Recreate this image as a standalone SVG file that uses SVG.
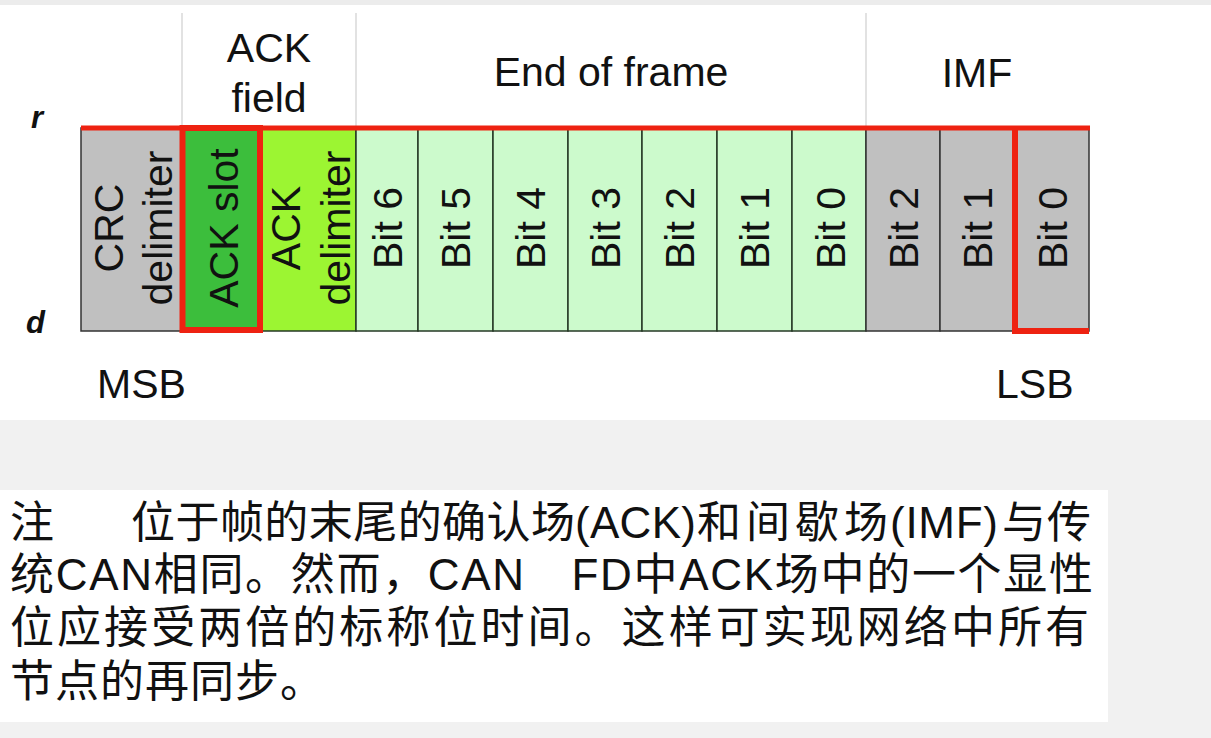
<svg xmlns="http://www.w3.org/2000/svg" width="1211" height="738" viewBox="0 0 1211 738">
<style>
.t{font-family:"Liberation Sans",Arial,sans-serif;font-size:41px;fill:#111;}
.c{text-anchor:middle;}
.lbl{font-family:"Liberation Sans",Arial,sans-serif;font-size:31px;font-weight:bold;font-style:italic;fill:#111;}
.zh{font-family:"Liberation Sans","Noto Sans CJK SC",sans-serif;font-size:44px;fill:#111;}
.gray{fill:#c0c0c0;stroke:#333;stroke-width:1.5;}
.eof{fill:#ccfacc;stroke:#263826;stroke-width:1.5;}
.slot{fill:#3cbe3c;}
.adel{fill:#9cf532;stroke:#263826;stroke-width:1.5;}
.red{fill:none;stroke:#ee2211;stroke-width:6;}
.div{stroke:#cfcfcf;stroke-width:1.2;}
</style>
<rect x="0" y="0" width="1211" height="738" fill="#ffffff"/>
<rect x="0" y="0" width="1211" height="5" fill="#ececec"/>
<rect x="0" y="420" width="1211" height="318" fill="#f1f1f1"/>
<rect x="0" y="490" width="1108" height="232" fill="#ffffff"/>

<g id="connectors">
<line class="div" x1="182" y1="13" x2="182" y2="128"/>
<line class="div" x1="356" y1="13" x2="356" y2="128"/>
<line class="div" x1="866" y1="13" x2="866" y2="128"/>
</g>

<g id="headers">
<text class="t c" x="269" y="62">ACK</text>
<text class="t c" x="269" y="112">field</text>
<text class="t c" x="611" y="86">End of frame</text>
<text class="t c" x="977" y="87">IMF</text>
</g>

<g id="levels">
<text class="lbl" x="31" y="128">r</text>
<text class="lbl" x="26" y="333">d</text>
<text class="t" x="97" y="398">MSB</text>
<text class="t" x="996" y="398">LSB</text>
</g>

<g id="crc-delimiter">
<rect class="gray" x="81" y="128" width="101" height="203"/>
<text class="t c" transform="translate(123,228) rotate(-90)">CRC</text>
<text class="t c" transform="translate(172,228) rotate(-90)">delimiter</text>
</g>
<g id="ack-delimiter">
<rect class="adel" x="260" y="128" width="96" height="203"/>
<text class="t c" transform="translate(300,228) rotate(-90)">ACK</text>
<text class="t c" transform="translate(350,228) rotate(-90)">delimiter</text>
</g>
<g id="eof-bit6"><rect class="eof" x="356" y="128" width="62" height="203"/><text class="t c" transform="translate(402,228) rotate(-90)">Bit 6</text></g>
<g id="eof-bit5"><rect class="eof" x="418" y="128" width="75" height="203"/><text class="t c" transform="translate(470,228) rotate(-90)">Bit 5</text></g>
<g id="eof-bit4"><rect class="eof" x="493" y="128" width="75" height="203"/><text class="t c" transform="translate(545,228) rotate(-90)">Bit 4</text></g>
<g id="eof-bit3"><rect class="eof" x="568" y="128" width="74" height="203"/><text class="t c" transform="translate(619.5,228) rotate(-90)">Bit 3</text></g>
<g id="eof-bit2"><rect class="eof" x="642" y="128" width="75" height="203"/><text class="t c" transform="translate(694,228) rotate(-90)">Bit 2</text></g>
<g id="eof-bit1"><rect class="eof" x="717" y="128" width="75" height="203"/><text class="t c" transform="translate(769,228) rotate(-90)">Bit 1</text></g>
<g id="eof-bit0"><rect class="eof" x="792" y="128" width="74" height="203"/><text class="t c" transform="translate(844.5,228) rotate(-90)">Bit 0</text></g>
<g id="imf-bit2"><rect class="gray" x="866" y="128" width="74" height="203"/><text class="t c" transform="translate(917.5,228) rotate(-90)">Bit 2</text></g>
<g id="imf-bit1"><rect class="gray" x="940" y="128" width="75" height="203"/><text class="t c" transform="translate(991.5,228) rotate(-90)">Bit 1</text></g>
<g id="imf-bit0">
<rect class="gray" x="1015" y="128" width="74" height="203"/>
<text class="t c" transform="translate(1067,228) rotate(-90)">Bit 0</text>
<polyline class="red" points="1015,128 1015,331 1089,331"/>
</g>
<line x1="81" y1="128" x2="1090" y2="128" stroke="#ee2211" stroke-width="5"/>
<g id="ack-slot">
<rect class="slot" x="182" y="128" width="78" height="203"/>
<text class="t c" transform="translate(237.5,228) rotate(-90)">ACK slot</text>
<rect class="red" x="182.5" y="128" width="77.5" height="202"/>
</g>

<g id="note">
<text class="zh" x="10" y="538">注</text>
<text class="zh" x="131" y="538" textLength="444" lengthAdjust="spacing">位于帧的末尾的确认场</text>
<text class="zh" x="575" y="538" textLength="121" lengthAdjust="spacing">(ACK)</text>
<text class="zh" x="697" y="538" textLength="191" lengthAdjust="spacing">和间歇场</text>
<text class="zh" x="890" y="538" textLength="108" lengthAdjust="spacing">(IMF)</text>
<text class="zh" x="1002" y="538" textLength="89" lengthAdjust="spacing">与传</text>
<text class="zh" x="10" y="590" textLength="1083" lengthAdjust="spacing">统CAN相同。然而，CAN　FD中ACK场中的一个显性</text>
<text class="zh" x="10" y="643" textLength="1079" lengthAdjust="spacing">位应接受两倍的标称位时间。这样可实现网络中所有</text>
<text class="zh" x="10" y="697" letter-spacing="1">节点的再同步。</text>
</g>
</svg>
